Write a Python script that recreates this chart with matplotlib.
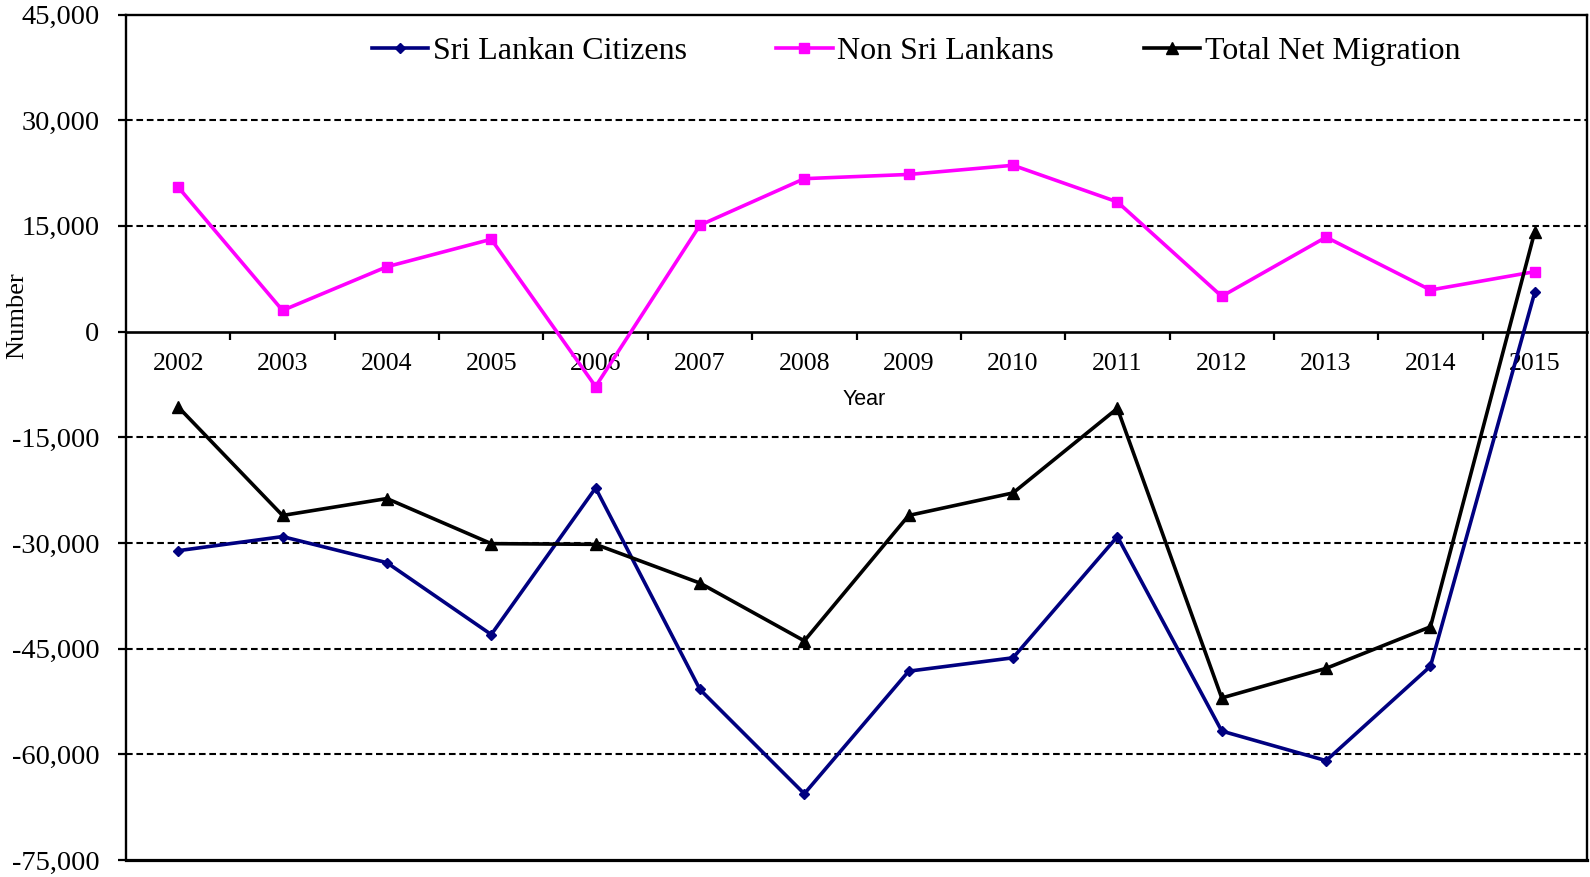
import matplotlib
matplotlib.use("Agg")
import matplotlib.pyplot as plt
import numpy as np

years = ["2002", "2003", "2004", "2005", "2006", "2007", "2008", "2009",
         "2010", "2011", "2012", "2013", "2014", "2015"]
sri_lankan_citizens = [-31100, -29100, -32800, -43000, -22200, -50800, -65600,
                       -48200, -46300, -29100, -56700, -60900, -47500, 5600]
non_sri_lankans = [20500, 3000, 9200, 13100, -7800, 15100, 21700,
                   22300, 23600, 18400, 5000, 13400, 5900, 8500]
total_net_migration = [-10700, -26100, -23700, -30100, -30200, -35700, -43900,
                       -26100, -22900, -10900, -52000, -47800, -41900, 14200]
y_ticks = [-75000, -60000, -45000, -30000, -15000, 0, 15000, 30000, 45000]

plt.rcParams['font.family'] = ['Liberation Serif', 'DejaVu Serif']

W, H = 1590, 877
fig = plt.figure(figsize=(W / 100, H / 100), dpi=100)
ax = fig.add_axes([126 / W, 1 - 860 / H, (1587 - 126) / W, (860 - 14.5) / H])

x = np.arange(len(years))
ax.set_xlim(-0.5, len(years) - 0.5)
ax.set_ylim(-75000, 45000)

# grid lines
for v in y_ticks:
    if v not in (0, -75000, 45000):
        ax.axhline(v, color='black', lw=1.5, linestyle=(0, (3.2, 1.8)), zorder=1)

ax.plot(x, sri_lankan_citizens, color='#000080', lw=2.6, marker='D', ms=5.5,
        label='Sri Lankan Citizens', zorder=3)
ax.plot(x, non_sri_lankans, color='#FF00FF', lw=2.6, marker='s', ms=7,
        label='Non Sri Lankans', zorder=3)
ax.plot(x, total_net_migration, color='black', lw=2.6, marker='^', ms=8,
        label='Total Net Migration', zorder=3)

# spines
for s in ['left', 'right', 'top']:
    ax.spines[s].set_linewidth(1.7)
    ax.spines[s].set_color('black')
ax.spines['bottom'].set_position(('data', 0))
ax.spines['bottom'].set_linewidth(1.9)
# bottom border of plot area
ax.plot([0, 1], [0, 0], transform=ax.transAxes, color='black', lw=2.3,
        clip_on=False, zorder=4)

# y axis
ax.set_yticks(y_ticks)
ax.set_yticklabels([f"{v:,}" for v in y_ticks], fontsize=20.5)
ax.tick_params(axis='y', direction='out', length=6, width=1.6, pad=13)

# x axis: ticks at boundaries, labels at centers
ax.set_xticks(np.arange(0.5, len(years) - 1, 1.0))
ax.set_xticklabels([])
ax.set_xticks(x, minor=True)
ax.set_xticklabels(years, minor=True, fontsize=18.6)
ax.tick_params(axis='x', which='major', direction='out', length=6, width=1.6)
ax.tick_params(axis='x', which='minor', length=0, pad=15.5)

fig.text(17.5 / W, 1 - 316 / H, 'Number', rotation=90, ha='center', va='center',
         fontsize=19)
fig.text(864 / W, 1 - 400 / H, 'Year', ha='center', va='center',
         fontsize=15.5, family=['Liberation Sans', 'DejaVu Sans'])

leg = ax.legend(loc='center', bbox_to_anchor=(916 / W, 1 - 51.5 / H),
                bbox_transform=fig.transFigure, ncol=3, frameon=False,
                fontsize=23, handlelength=1.76, handletextpad=0.15,
                columnspacing=2.8, numpoints=1, borderpad=0, borderaxespad=0)

fig.savefig('out.png', dpi=100)
